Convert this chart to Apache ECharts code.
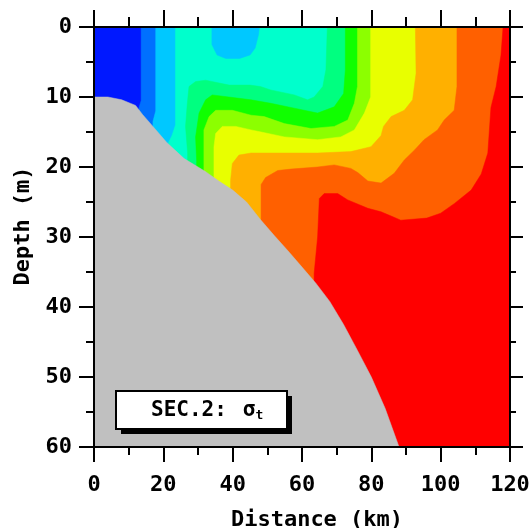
<!DOCTYPE html>
<html>
<head>
<meta charset="utf-8">
<script src="https://cdn.jsdelivr.net/npm/echarts@6/dist/echarts.min.js"></script>
<style>
  html, body { margin: 0; background: #fff; }
  #chart { width: 531px; height: 528px; }
</style>
</head>
<body>
<div id="chart"></div>
<script>
// sigma-t levels, lightest water first
const levelColors = ['#0018ff', '#0070ff', '#00c8ff', '#00ffcc', '#00ff80', '#10ff00',
  '#8cff00', '#e8ff00', '#ffb000', '#ff6000', '#ff0000'];

// upper/left edge of each level band, [distance km, depth m]
const edge1 = [[13.6, 0], [13.6, 10.5], [13, 11.5]];
const edge2 = [[17.8, 0], [17.8, 12], [17, 13.5]];
const edge3 = [[23.5, 0], [23.5, 14], [22.5, 15.5], [21.5, 16.5]];
const pocket2 = [[34, 0], [34, 2.5], [35.5, 4], [38, 4.5], [42, 4.5], [45, 4], [46.5, 3], [47.5, 1], [47.7, 0]];
const edge4 = [[67.3, 0], [66.9, 6.1], [66, 8.5], [63.5, 10], [61.6, 10.4], [57.8, 9.7], [51, 9], [48, 8.5],
  [45, 8.3], [39, 8.3], [32.2, 7.6], [29.3, 7.8], [27.4, 8.5], [26.9, 11], [26.4, 14.2], [27, 18]];
const edge5 = [[72.5, 0], [72.5, 6.1], [72, 9.5], [69.3, 11.4], [64.5, 12.3], [57.8, 11.6], [51, 10.9],
  [45.3, 10.4], [38.9, 10], [34.1, 9.7], [32.2, 10.4], [30.3, 12.3], [29.3, 15.7], [29.6, 19]];
const edge6 = [[76, 0], [76, 8.5], [75.1, 10.9], [73.2, 13.3], [69.3, 14.2], [62.6, 14.5], [54.9, 13.8],
  [49.1, 12.8], [45.3, 12.6], [39.9, 11.9], [35.1, 11.9], [33.2, 12.8], [31.7, 14.7], [31.7, 20]];
const edge7 = [[79.8, 0], [79.8, 10], [78, 12.3], [75.1, 14.7], [71.2, 15.7], [64.5, 16.1], [54.9, 15.7],
  [48.2, 15], [45.3, 14.7], [40.9, 14.2], [37, 14.2], [35.1, 15.2], [34.6, 17.1], [34.6, 21]];
const edge8 = [[92.7, 0], [92.9, 6.6], [91.9, 10.4], [89.5, 11.9], [85.7, 12.8], [83.5, 14.2], [82.8, 15.5],
  [79.9, 17.1], [74.1, 17.8], [64.5, 18], [54.9, 18], [45.3, 18], [41.8, 18.3], [39.9, 19.5], [39.4, 21.9]];
const edge9 = [[104.7, 0], [104.7, 8.5], [103.9, 11.9], [101, 13.3], [99.1, 14.7], [95.2, 16.1], [92.4, 17.6],
  [89.5, 19], [86.6, 20.9], [82.8, 22.3], [79, 22], [76.1, 20.8], [74.1, 20.2], [69.3, 19.7], [64.5, 20],
  [56.8, 20.3], [53, 20.5], [49.5, 21.5], [48.2, 22.5]];
const edge10 = [[118, 0], [117.4, 4], [116, 8.5], [114.5, 11.5], [113.6, 18], [111.7, 21], [108.8, 23.3],
  [104, 25.2], [100, 26.6], [96, 27.3], [88.5, 27.6], [85.7, 27], [82.8, 26.4], [79, 25.9], [73.2, 24.7],
  [70.3, 23.8], [66.4, 23.8], [65, 24.5], [64.5, 30], [63.5, 35.2]];

// sea floor
const bottom = [[0, 10], [4, 10], [8, 10.4], [12, 11.2], [14, 12.5], [17, 14.2], [21, 16.5], [26, 18.8],
  [32, 20.6], [36, 22], [40, 23.3], [44, 25], [48, 27.5], [52, 29.8], [56, 32], [60, 34.3], [64, 36.6],
  [68, 39.2], [72, 42.5], [76, 46.2], [80, 50], [84, 54.5], [88, 60]];

const xMax = 120, yMax = 60;
const fontFamily = 'DejaVu Sans Mono';

// band = everything right of / below its edge
function band(edge) {
  const last = edge[edge.length - 1];
  return edge.concat([[last[0], yMax], [xMax, yMax], [xMax, 0]]);
}

const shapes = [
  { color: levelColors[0], pts: [[0, 0], [0, yMax], [xMax, yMax], [xMax, 0]] },
  { color: levelColors[1], pts: band(edge1) },
  { color: levelColors[2], pts: band(edge2) },
  { color: levelColors[3], pts: band(edge3) },
  { color: levelColors[2], pts: pocket2 },
  { color: levelColors[4], pts: band(edge4) },
  { color: levelColors[5], pts: band(edge5) },
  { color: levelColors[6], pts: band(edge6) },
  { color: levelColors[7], pts: band(edge7) },
  { color: levelColors[8], pts: band(edge8) },
  { color: levelColors[9], pts: band(edge9) },
  { color: levelColors[10], pts: band(edge10) },
  { color: '#c0c0c0', pts: bottom.concat([[0, yMax]]) }
];

const chart = echarts.init(document.getElementById('chart'));

const labelStyle = { fontFamily: fontFamily, fontWeight: 'bold', fontSize: 22, color: '#000' };
const lineStyle = { color: '#000', width: 2 };

function xAxis(pos, tickLen, minorLen, showLabel) {
  return {
    type: 'value', position: pos, min: 0, max: xMax, interval: 20,
    z: 10,
    axisLine: { onZero: false, lineStyle: lineStyle },
    axisTick: { length: tickLen, lineStyle: lineStyle },
    minorTick: { show: true, splitNumber: 2, length: minorLen, lineStyle: lineStyle },
    axisLabel: Object.assign({ show: showLabel, margin: 27 }, labelStyle),
    splitLine: { show: false }
  };
}

function yAxis(pos, tickLen, minorLen, showLabel) {
  return {
    type: 'value', position: pos, min: 0, max: yMax, interval: 10, inverse: true,
    z: 10,
    axisLine: { onZero: false, lineStyle: lineStyle },
    axisTick: { length: tickLen, lineStyle: lineStyle },
    minorTick: { show: true, splitNumber: 2, length: minorLen, lineStyle: lineStyle },
    axisLabel: Object.assign({ show: showLabel, margin: 22 }, labelStyle),
    splitLine: { show: false }
  };
}

const xBottom = xAxis('bottom', 15, 8, true);
xBottom.name = 'Distance (km)';
xBottom.nameLocation = 'middle';
xBottom.nameGap = 62;
xBottom.nameTextStyle = Object.assign({ padding: [0, 0, 0, 30] }, labelStyle);

const yLeft = yAxis('left', 15, 8, true);
yLeft.name = 'Depth (m)';
yLeft.nameLocation = 'middle';
yLeft.nameGap = 56;
yLeft.nameTextStyle = Object.assign({ padding: [0, 0, 0, 22] }, labelStyle);

const option = {
  animation: false,
  grid: { left: 94, top: 27, width: 416, height: 420, outerBoundsMode: 'none', containLabel: false },
  xAxis: [xBottom, xAxis('top', 17, 10, false)],
  yAxis: [yLeft, yAxis('right', 13, 6, false)],
  series: [{
    type: 'custom',
    xAxisIndex: 0,
    yAxisIndex: 0,
    silent: true,
    data: shapes.map((s, i) => i),
    renderItem: function (params, api) {
      const s = shapes[params.dataIndex];
      return {
        type: 'polygon',
        z2: params.dataIndex,
        shape: { points: s.pts.map(p => api.coord(p)) },
        style: { fill: s.color, stroke: s.color, lineWidth: 0.5 }
      };
    }
  }],
  graphic: [
    { type: 'rect', left: 121, top: 396, z: 20, shape: { width: 171, height: 38 }, style: { fill: '#000' } },
    { type: 'rect', left: 115, top: 390, z: 21, shape: { width: 171, height: 38 },
      style: { fill: '#fff', stroke: '#000', lineWidth: 2 } },
    { type: 'text', left: 151, top: 400, z: 22,
      style: {
        text: '{a|SEC.2:}{g|σ}{s|t}',
        rich: {
          a: { fontFamily: fontFamily, fontWeight: 'bold', fontSize: 21, fill: '#000' },
          g: { fontFamily: fontFamily, fontWeight: 'bold', fontSize: 21, fill: '#000', padding: [0, 0, 0, 16] },
          s: { fontFamily: fontFamily, fontWeight: 'bold', fontSize: 13, fill: '#000', padding: [10, 0, 0, 0] }
        }
      } }
  ]
};

chart.setOption(option);
</script>
</body>
</html>
